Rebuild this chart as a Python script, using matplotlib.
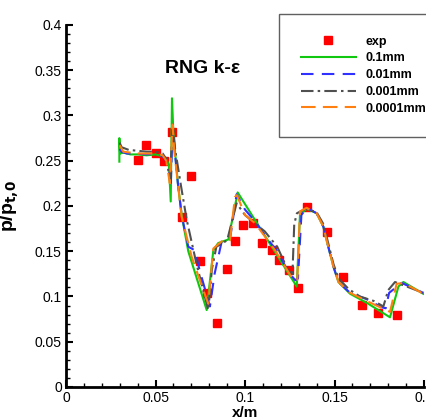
import matplotlib
matplotlib.use("Agg")
import matplotlib.pyplot as plt
from matplotlib.ticker import MultipleLocator, FormatStrFormatter

plt.rcParams["font.family"] = ["Liberation Sans", "DejaVu Sans"]

# experimental wall pressure
x_exp = [0.0402, 0.0447, 0.0503, 0.0547, 0.0592, 0.0648, 0.0698, 0.0749, 0.0788,
         0.0844, 0.0899, 0.0944, 0.0989, 0.1045, 0.1095, 0.1151, 0.1190, 0.1246,
         0.1296, 0.1346, 0.1458, 0.1547, 0.1654, 0.1743, 0.1849]
p_exp = [0.251, 0.267, 0.259, 0.250, 0.282, 0.188, 0.233, 0.139, 0.104,
         0.071, 0.130, 0.161, 0.179, 0.181, 0.159, 0.151, 0.140, 0.129,
         0.109, 0.199, 0.171, 0.122, 0.091, 0.082, 0.080]

# roughness 0.1mm
x_01 = [0.0298, 0.0298, 0.0302, 0.032, 0.036, 0.040, 0.045, 0.050, 0.054, 0.056,
        0.0575, 0.0585, 0.0592, 0.0600, 0.0625, 0.0646, 0.0683, 0.0786, 0.0823,
        0.085, 0.0907, 0.0959, 0.1289, 0.1307, 0.1344, 0.140, 0.1438, 0.1456,
        0.1494, 0.1522, 0.1587, 0.168, 0.181, 0.1857, 0.1885, 0.1996]
p_01 = [0.249, 0.275, 0.258, 0.259, 0.257, 0.257, 0.256, 0.257, 0.255, 0.252,
        0.245, 0.205, 0.319, 0.280, 0.225, 0.190, 0.150, 0.085, 0.151,
        0.159, 0.163, 0.215, 0.111, 0.190, 0.197, 0.192, 0.177, 0.162,
        0.133, 0.116, 0.103, 0.093, 0.077, 0.111, 0.116, 0.103]

# roughness 0.01mm
x_001 = [0.030, 0.031, 0.034, 0.040, 0.045, 0.050, 0.054, 0.056, 0.0575, 0.0585,
         0.0595, 0.0605, 0.0625, 0.0646, 0.0683, 0.072, 0.0745, 0.0804, 0.083,
         0.087, 0.0916, 0.0953, 0.100, 0.106, 0.112, 0.118, 0.124, 0.128, 0.1296,
         0.1315, 0.1344, 0.140, 0.1438, 0.1456, 0.1494, 0.1522, 0.1587, 0.168,
         0.1765, 0.1786, 0.1805, 0.1875, 0.1996]
p_001 = [0.263, 0.260, 0.258, 0.258, 0.257, 0.258, 0.255, 0.250, 0.240, 0.220,
         0.285, 0.265, 0.225, 0.190, 0.155, 0.151, 0.130, 0.089, 0.125,
         0.161, 0.163, 0.213, 0.196, 0.182, 0.165, 0.150, 0.128, 0.118, 0.120,
         0.190, 0.198, 0.192, 0.177, 0.162, 0.133, 0.116, 0.104, 0.097,
         0.088, 0.087, 0.104, 0.115, 0.104]

# roughness 0.001mm
x_0001 = [0.030, 0.031, 0.035, 0.045, 0.050, 0.054, 0.056, 0.058, 0.0597, 0.0610,
          0.0640, 0.0674, 0.0730, 0.0795, 0.0815, 0.084, 0.090, 0.0953, 0.100,
          0.106, 0.111, 0.118, 0.124, 0.1265, 0.1275, 0.129, 0.134, 0.140, 0.1438,
          0.1494, 0.1522, 0.158, 0.1642, 0.172, 0.1773, 0.180, 0.1838, 0.1996]
p_0001 = [0.270, 0.265, 0.262, 0.260, 0.260, 0.258, 0.252, 0.230, 0.290, 0.262,
          0.225, 0.185, 0.135, 0.085, 0.130, 0.155, 0.162, 0.203, 0.190,
          0.180, 0.172, 0.155, 0.129, 0.125, 0.180, 0.192, 0.197, 0.193, 0.180,
          0.136, 0.120, 0.108, 0.100, 0.095, 0.089, 0.107, 0.116, 0.104]

# roughness 0.0001mm
x_00001 = [0.030, 0.032, 0.040, 0.050, 0.054, 0.056, 0.058, 0.0595, 0.0605, 0.0646,
           0.0702, 0.0767, 0.0795, 0.0823, 0.087, 0.0916, 0.0944, 0.0955, 0.100,
           0.1056, 0.1168, 0.127, 0.1292, 0.1307, 0.1344, 0.140, 0.1438, 0.1456,
           0.1494, 0.1522, 0.1587, 0.168, 0.181, 0.1847, 0.1885, 0.1996]
p_00001 = [0.267, 0.260, 0.258, 0.258, 0.256, 0.250, 0.225, 0.290, 0.260, 0.188,
           0.144, 0.107, 0.092, 0.153, 0.161, 0.162, 0.210, 0.212, 0.190,
           0.181, 0.151, 0.118, 0.118, 0.194, 0.198, 0.192, 0.177, 0.162,
           0.133, 0.116, 0.104, 0.095, 0.083, 0.114, 0.115, 0.103]

fig = plt.figure(figsize=(4.27, 4.18), dpi=100)
ax = fig.add_axes([0.1546, 0.0742, 0.8384, 0.866])

ax.plot(x_exp, p_exp, ls='none', marker='s', ms=6, mfc='#ff0000', mec='#ff0000',
        label='exp', zorder=1)
ax.plot(x_01, p_01, c='#10c810', lw=1.5, label='0.1mm', zorder=2)
ax.plot(x_001, p_001, c='#3030ff', lw=1.5, dashes=(6, 4), label='0.01mm', zorder=3)
ax.plot(x_0001, p_0001, c='#505050', lw=1.5, dashes=(6, 2, 1.2, 2), label='0.001mm', zorder=4)
ax.plot(x_00001, p_00001, c='#ff8010', lw=1.5, dashes=(7, 3.5), label='0.0001mm', zorder=5)

ax.set_xlim(0, 0.2)
ax.set_ylim(0, 0.4)
ax.xaxis.set_major_locator(MultipleLocator(0.05))
ax.xaxis.set_minor_locator(MultipleLocator(0.01))
ax.yaxis.set_major_locator(MultipleLocator(0.05))
ax.yaxis.set_minor_locator(MultipleLocator(0.01))
ax.xaxis.set_major_formatter(FormatStrFormatter('%g'))
ax.yaxis.set_major_formatter(FormatStrFormatter('%g'))

for side in ['top', 'right']:
    ax.spines[side].set_visible(False)
for side in ['left', 'bottom']:
    ax.spines[side].set_linewidth(2)
ax.tick_params(which='major', direction='in', length=5, width=1.5, labelsize=10, pad=3)
ax.tick_params(which='minor', direction='in', length=3, width=1)
ax.tick_params(top=False, right=False, which='both')

ax.set_xlabel('x/m', fontsize=11, fontweight='bold')
ax.xaxis.set_label_coords(0.5, -0.052)
ax.set_ylabel(r'p/p$_{\mathbf{t{,}0}}$', fontsize=14, fontweight='bold')
ax.yaxis.set_label_coords(-0.125, 0.5)

ax.text(0.0763, 0.352, 'RNG k-ε', fontsize=14, fontweight='bold', ha='center', va='center')

leg = fig.legend(loc='upper left', bbox_to_anchor=(0.653, 0.967),
                 prop={'weight': 'bold', 'size': 9}, numpoints=1, handlelength=4.4,
                 handletextpad=0.8, labelspacing=0.38, borderpad=1.75,
                 borderaxespad=0, fancybox=False, framealpha=1)
leg.get_frame().set_edgecolor('#606060')
leg.get_frame().set_linewidth(1)

plt.savefig('out.png', dpi=100)
